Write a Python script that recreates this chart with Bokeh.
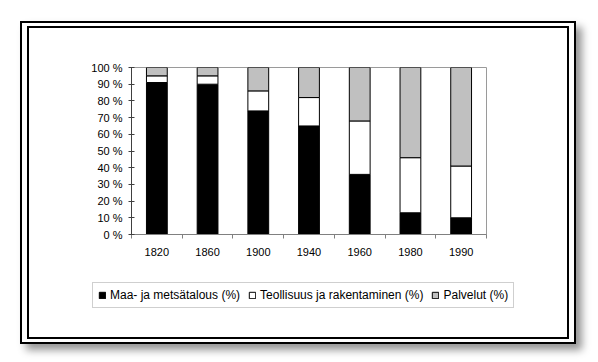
from bokeh.plotting import figure
from bokeh.models import ColumnDataSource, Range1d, FixedTicker, Legend, LegendItem
from bokeh.layouts import column
from bokeh.embed import file_html
from bokeh.resources import INLINE

# ---- data ----
years = ["1820", "1860", "1900", "1940", "1960", "1980", "1990"]
maa_metsatalous = [91, 90, 74, 65, 36, 13, 10]
teollisuus = [4, 5, 12, 17, 32, 33, 31]
palvelut = [5, 5, 14, 18, 32, 54, 59]
series_names = ["Maa- ja metsätalous (%)", "Teollisuus ja rakentaminen (%)", "Palvelut (%)"]
series_colors = ["#000000", "#ffffff", "#c0c0c0"]
y_ticks = [0, 10, 20, 30, 40, 50, 60, 70, 80, 90, 100]
y_tick_labels = ["0 %", "10 %", "20 %", "30 %", "40 %", "50 %", "60 %", "70 %", "80 %", "90 %", "100 %"]

FONT = "Liberation Sans"

x_pos = [i + 0.5 for i in range(len(years))]
bounds = list(range(len(years) + 1))

source = ColumnDataSource(dict(x=x_pos, maa=maa_metsatalous, teol=teollisuus, palv=palvelut))
stackers = ["maa", "teol", "palv"]

p = figure(
    frame_width=355, frame_height=167,
    min_border_left=102, min_border_right=81, min_border_top=39, min_border_bottom=35,
    x_range=Range1d(0, len(years)), y_range=Range1d(0, 100),
    output_backend="svg", toolbar_location=None,
)
p.background_fill_color = "white"
p.border_fill_color = "white"
p.outline_line_color = "#9a9a9a"
p.outline_line_width = 1
p.xgrid.visible = False
p.ygrid.visible = False

p.vbar_stack(
    stackers, x="x", width=0.41, source=source,
    fill_color=series_colors, line_color="black", line_width=1,
)

# x axis: labels at category centres, ticks between categories
xa = p.xaxis[0]
xa.ticker = FixedTicker(ticks=x_pos, minor_ticks=bounds)
xa.major_label_overrides = {x: y for x, y in zip(x_pos, years)}
xa.major_tick_in = 0
xa.major_tick_out = 0
xa.minor_tick_in = 0
xa.minor_tick_out = 4
xa.minor_tick_line_color = "#808080"
xa.axis_line_color = "#808080"
xa.major_label_standoff = 9
xa.major_label_text_font = FONT
xa.major_label_text_font_size = "11px"
xa.major_label_text_color = "black"

ya = p.yaxis[0]
ya.ticker = FixedTicker(ticks=y_ticks)
ya.major_label_overrides = {t: l for t, l in zip(y_ticks, y_tick_labels)}
ya.major_tick_in = 3
ya.major_tick_out = 3
ya.minor_tick_line_color = None
ya.axis_line_color = "#404040"
ya.major_tick_line_color = "#404040"
ya.major_label_standoff = 6
ya.major_label_text_font = FONT
ya.major_label_text_font_size = "11px"
ya.major_label_text_color = "black"

# ---- legend strip (separate small figure so the legend is not clipped) ----
pl = figure(
    width=538, height=68, min_border=0,
    x_range=Range1d(0, len(years)), y_range=Range1d(200, 201),
    x_axis_type=None, y_axis_type=None,
    output_backend="svg", toolbar_location=None,
)
pl.outline_line_color = None
pl.background_fill_color = "white"
pl.border_fill_color = "white"
pl.xgrid.visible = False
pl.ygrid.visible = False
swatches = pl.vbar_stack(
    stackers, x="x", width=0.41, source=source,
    fill_color=series_colors, line_color="black", line_width=1,
)
legend = Legend(
    items=[LegendItem(label=n, renderers=[r]) for n, r in zip(series_names, swatches)],
    orientation="horizontal", location=(63, 29),
    label_text_font=FONT, label_text_font_size="12px", label_text_color="black",
    glyph_width=8, glyph_height=8, label_standoff=4, spacing=8,
    padding=5, margin=0, label_height=12,
    border_line_color="#a0a0a0", border_line_width=1,
    background_fill_color="white",
)
pl.add_layout(legend, "center")

inner = column(p, column(pl), spacing=0, styles={"border": "2px solid black", "background-color": "white"})
outer = column(
    inner,
    styles={
        "border": "2px solid black",
        "padding": "3px 5px",
        "background-color": "white",
        "box-shadow": "6px 6px 8px rgba(0,0,0,0.42)",
        "margin-left": "20px",
        "margin-top": "21px",
    },
)

open("out.html", "w").write(file_html(outer, INLINE))
